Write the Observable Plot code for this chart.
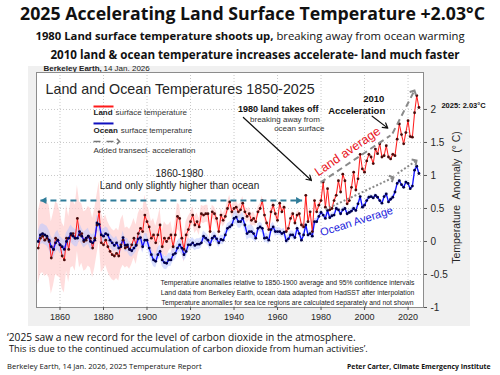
<!DOCTYPE html>
<html><head><meta charset="utf-8">
<script src="https://cdn.jsdelivr.net/npm/d3@7"></script>
<script src="https://cdn.jsdelivr.net/npm/@observablehq/plot@0.6"></script>
<style>
body{margin:0;width:500px;height:375px;position:relative;background:#fff;font-family:"Open Sans",sans-serif;overflow:hidden;color:#111}
.c{position:absolute;white-space:nowrap;transform:translate(-50%,-50%);line-height:1}
.l{position:absolute;white-space:nowrap;transform:translateY(-50%);line-height:1}
</style></head><body>
<div id="panel" style="position:absolute;left:28px;top:66px;width:442px;height:260px;background:#f0f0f0"></div>
<div id="chart" style="position:absolute;left:28px;top:60px"></div>
<div class="c" data-w="465" style="left:252.5px;top:14px;font-size:18px;font-weight:700">2025 Accelerating Land Surface Temperature +2.03°C</div>
<div class="c" data-w="430" style="left:250px;top:36px;font-size:12.5px"><b>1980 Land surface temperature shoots up,</b> breaking away from ocean warming</div>
<div class="c" data-w="410" style="left:255px;top:55px;font-size:12.5px;font-weight:700">2010 land &amp; ocean temperature increases accelerate- land much faster</div>
<div class="l" data-w="349" style="left:7px;top:337px;font-size:9.5px">‘2025 saw a new record for the level of carbon dioxide in the atmosphere.</div>
<div class="l" data-w="359" style="left:9px;top:349px;font-size:9.5px">This is due to the continued accumulation of carbon dioxide from human activities’.</div>
<div class="l" data-w="195" style="left:7px;top:367px;font-size:7.5px">Berkeley Earth, 14 Jan. 2026, 2025 Temperature Report</div>
<div class="l" data-w="144" style="left:347px;top:367px;font-size:7.5px;font-weight:700">Peter Carter, Climate Emergency Institute</div>
<script>
// ---------- data ----------
const years = d3.range(1850, 2026);
const land = [
-0.10,0.05,0.08,0.02,0.05,0.00,-0.25,-0.12,0.05,0.02,
-0.05,-0.22,-0.28,0.05,-0.12,0.10,0.12,0.05,0.35,0.10,
0.12,0.00,0.02,0.08,0.05,-0.10,0.05,0.25,0.45,-0.02,
-0.05,0.02,-0.08,-0.15,-0.20,-0.22,-0.18,-0.22,-0.05,0.02,
-0.10,-0.08,-0.12,-0.05,0.05,-0.05,0.12,0.20,0.15,0.40,
0.30,0.22,0.05,0.10,-0.02,0.10,0.25,-0.08,0.05,0.00,
0.05,0.10,-0.08,0.10,0.38,0.35,0.05,-0.12,0.10,0.18,
0.30,0.40,0.25,0.30,0.22,0.42,0.40,0.42,0.42,0.15,
0.45,0.42,0.35,0.15,0.40,0.32,0.38,0.50,0.60,0.45,
0.50,0.52,0.45,0.48,0.58,0.45,0.38,0.42,0.32,0.35,
0.30,0.45,0.50,0.62,0.40,0.28,0.18,0.45,0.55,0.42,
0.32,0.58,0.45,0.52,0.15,0.20,0.35,0.42,0.28,0.40,
0.42,0.25,0.22,0.70,0.30,0.45,0.15,0.62,0.45,0.55,
0.62,0.90,0.52,0.80,0.48,0.50,0.62,0.70,0.92,0.75,
1.02,0.92,0.57,0.62,0.82,1.05,0.78,0.95,1.32,1.10,
1.05,1.22,1.32,1.28,1.18,1.40,1.33,1.48,1.28,1.30,
1.45,1.28,1.25,1.32,1.30,1.55,1.78,1.62,1.48,1.65,
1.83,1.59,1.58,1.95,2.21,2.03];
const ocean = [
0.00,0.10,0.12,0.10,0.08,0.02,-0.08,-0.12,-0.02,0.02,
-0.05,-0.08,-0.12,0.00,0.05,0.12,0.08,0.05,0.05,0.15,
0.08,0.02,0.05,0.08,0.00,-0.02,0.02,0.28,0.26,0.10,
0.08,0.12,0.10,0.02,-0.02,-0.06,-0.02,-0.10,-0.08,0.06,
-0.06,-0.05,-0.12,-0.14,-0.10,-0.06,0.04,0.06,-0.08,0.02,
0.02,-0.10,-0.20,-0.28,-0.30,-0.20,-0.15,-0.28,-0.32,-0.33,
-0.28,-0.28,-0.20,-0.18,-0.10,-0.05,-0.10,-0.20,-0.15,-0.05,
-0.05,-0.02,-0.06,-0.04,-0.04,-0.02,0.08,0.05,0.02,-0.05,
0.05,0.08,0.04,-0.02,0.03,0.02,0.10,0.20,0.22,0.25,
0.35,0.37,0.30,0.30,0.35,0.25,0.12,0.15,0.15,0.12,
0.05,0.20,0.22,0.20,0.05,0.06,0.02,0.18,0.22,0.15,
0.15,0.15,0.12,0.14,0.01,0.04,0.10,0.10,0.06,0.20,
0.12,0.02,0.10,0.25,0.10,0.12,0.08,0.30,0.30,0.38,
0.44,0.40,0.35,0.47,0.36,0.39,0.40,0.50,0.48,0.42,
0.48,0.50,0.42,0.44,0.46,0.50,0.47,0.57,0.68,0.52,
0.55,0.62,0.67,0.68,0.66,0.70,0.67,0.62,0.58,0.68,
0.72,0.60,0.64,0.67,0.75,0.88,0.92,0.86,0.82,0.90,
0.88,0.80,0.84,1.08,1.14,1.03];
// 95% half-widths by decade (1850s ... 2020s)
const landUnc  = [0.55,0.50,0.45,0.38,0.30,0.25,0.20,0.13,0.10,0.10,0.07,0.05,0.05,0.04,0.03,0.03,0.03,0.03];
const oceanUnc = [0.15,0.13,0.12,0.10,0.10,0.10,0.10,0.08,0.07,0.10,0.07,0.06,0.05,0.04,0.04,0.03,0.03,0.03];
const xTicks = [1860,1880,1900,1920,1940,1960,1980,2000,2020];
const yTicks = [-1,-0.5,0,0.5,1,1.5,2];

// ---------- annotations (data coordinates) ----------
const landTrend  = [{x1:1979.75,y1:0.894,x2:2011.9,y2:1.606,head:false},{x1:2012.85,y1:1.636,x2:2022.95,y2:2.288,head:true}];
const oceanTrend = [{x1:1982.05,y1:0.485,x2:2013.3,y2:0.970,head:true},{x1:2015.15,y1:1.030,x2:2023.9,y2:1.227,head:true}];
const legendTrend = [{x1:1875.4,y1:1.515,x2:1887.35,y2:1.515,head:true}];
const spanArrow = [{x1:1851.0,y1:0.621,x2:1971.3,y2:0.621}];
const blackArrows = [{x1:1944.3,y1:1.879,x2:1975.6,y2:0.924},{x1:2003.5,y1:1.898,x2:2010.7,y2:1.717}];

// ---------- layout ----------
const W=472,H=266,ML=8,MR=77,MT=12,MB=19;
const X0=1849.2,X1=2027.1,Y0=-1,Y1=2.56;
const kx=(W-ML-MR)/(X1-X0), ky=(H-MT-MB)/(Y1-Y0);
const ang=(a)=>Math.atan2(-(a.y2-a.y1)*ky,(a.x2-a.x1)*kx)*180/Math.PI;
const chevron={draw(ctx,size){const s=Math.sqrt(size)/2;ctx.moveTo(-s,-s);ctx.lineTo(0,0);ctx.lineTo(-s,s);}};
const tri={draw(ctx,size){const s=Math.sqrt(size)/2;ctx.moveTo(0,0);ctx.lineTo(-1.7*s,-s);ctx.lineTo(-1.7*s,s);ctx.closePath();}};
const headsOf=(segs)=>segs.filter(d=>d.head).map(d=>({x:d.x2,y:d.y2,a:ang(d)}));

const rows = years.map((year,i)=>({year,land:land[i],ocean:ocean[i],
  lh:landUnc[Math.floor((year-1850)/10)], oh:oceanUnc[Math.floor((year-1850)/10)]}));

const F="'Liberation Sans', Arial, sans-serif";
const chart = Plot.plot({
  width:W,height:H,marginLeft:ML,marginRight:MR,marginTop:MT,marginBottom:MB,
  style:{background:"transparent",fontFamily:F,color:"#262626",overflow:"visible"},
  x:{domain:[X0,X1]}, y:{domain:[Y0,Y1]},
  marks:[
    Plot.frame({fill:"white"}),
    Plot.ruleX(xTicks,{stroke:"#c8c8c8",strokeDasharray:"1,2"}),
    Plot.ruleY(yTicks,{stroke:"#c8c8c8",strokeDasharray:"1,2"}),
    Plot.areaY(rows,{x:"year",y1:d=>d.land-d.lh,y2:d=>d.land+d.lh,fill:"#ffcfcf",fillOpacity:0.7}),
    Plot.areaY(rows,{x:"year",y1:d=>d.ocean-d.oh,y2:d=>d.ocean+d.oh,fill:"#b8c4ff",fillOpacity:0.55}),
    Plot.line(rows,{x:"year",y:"land",stroke:"#ff1a1a",strokeWidth:1}),
    Plot.line(rows,{x:"year",y:"ocean",stroke:"#1010ff",strokeWidth:1.3}),
    Plot.dot(rows,{x:"year",y:"land",r:1.4,fill:"#4a0a0a",stroke:null}),
    Plot.dot(rows,{x:"year",y:"ocean",r:1.4,fill:"#000045",stroke:null}),
    // trend arrows
    Plot.link(landTrend,{x1:"x1",y1:"y1",x2:"x2",y2:"y2",stroke:"#8a8a8a",strokeWidth:2,strokeDasharray:"6,4"}),
    Plot.dot(headsOf(landTrend),{x:"x",y:"y",rotate:"a",symbol:chevron,r:4,stroke:"#8a8a8a",strokeWidth:2,fill:"none"}),
    Plot.link(oceanTrend,{x1:"x1",y1:"y1",x2:"x2",y2:"y2",stroke:"#8a8a8a",strokeWidth:2,strokeDasharray:"2,2"}),
    Plot.dot(headsOf(oceanTrend),{x:"x",y:"y",rotate:"a",symbol:chevron,r:4,stroke:"#8a8a8a",strokeWidth:2,fill:"none"}),
    // 1860-1980 span arrow
    Plot.link(spanArrow,{x1:"x1",y1:"y1",x2:"x2",y2:"y2",stroke:"#2f7c99",strokeWidth:2,strokeDasharray:"6,4"}),
    Plot.dot(spanArrow.flatMap(d=>[{x:d.x1,y:d.y1,a:180},{x:d.x2,y:d.y2,a:0}]),{x:"x",y:"y",rotate:"a",symbol:tri,r:4,fill:"#2f7c99",stroke:null}),
    Plot.arrow(blackArrows,{x1:"x1",y1:"y1",x2:"x2",y2:"y2",stroke:"#111",strokeWidth:1.2,headLength:7}),
    // legend
    Plot.link([{x1:1875.4,x2:1884.6,y:2.045}],{x1:"x1",x2:"x2",y1:"y",y2:"y",stroke:"#ff1a1a",strokeWidth:2}),
    Plot.link([{x1:1875.4,x2:1884.6,y:1.788}],{x1:"x1",x2:"x2",y1:"y",y2:"y",stroke:"#1010c0",strokeWidth:2}),
    Plot.link(legendTrend,{x1:"x1",y1:"y1",x2:"x2",y2:"y2",stroke:"#777",strokeWidth:1.5,strokeDasharray:"7,6"}),
    Plot.dot(headsOf(legendTrend),{x:"x",y:"y",rotate:"a",symbol:chevron,r:3,stroke:"#777",strokeWidth:1.5,fill:"none"}),
    Plot.text(["Land"],{x:1875.4,y:1.955,textAnchor:"start",fontSize:8,fontWeight:"bold",fill:"#222"}),
    Plot.text(["surface temperature"],{x:1885.5,y:1.955,textAnchor:"start",fontSize:8,fill:"#333"}),
    Plot.text(["Ocean"],{x:1875.4,y:1.682,textAnchor:"start",fontSize:8,fontWeight:"bold",fill:"#222"}),
    Plot.text(["surface temperature"],{x:1887.9,y:1.682,textAnchor:"start",fontSize:8,fill:"#333"}),
    Plot.text(["Added transect- acceleration"],{x:1875.4,y:1.379,textAnchor:"start",fontSize:8,fill:"#333"}),
    // titles and notes inside axes
    Plot.text(["Land and Ocean Temperatures 1850-2025"],{frameAnchor:"top-left",dx:9,dy:17,lineAnchor:"middle",textAnchor:"start",fontSize:14.3,fill:"#262626"}),
    Plot.text(["Berkeley Earth,"],{frameAnchor:"top-left",dx:7,dy:-4.5,lineAnchor:"middle",textAnchor:"start",fontSize:8,fontWeight:"bold",fill:"#222"}),
    Plot.text(["14 Jan. 2026"],{frameAnchor:"top-left",dx:67,dy:-4.5,lineAnchor:"middle",textAnchor:"start",fontSize:8,fill:"#222"}),
    Plot.text(["1860-1980"],{x:1914.9,y:1.03,fontSize:10,fill:"#222"}),
    Plot.text(["Land only slightly higher than ocean"],{x:1914.9,y:0.848,fontSize:10,fill:"#222"}),
    Plot.text(["1980 land takes off"],{x:1960.3,y:2.008,fontSize:9,fontWeight:"bold",fill:"#111"}),
    Plot.text(["breaking away from"],{x:1963.4,y:1.856,fontSize:8,fill:"#333"}),
    Plot.text(["ocean surface"],{x:1970.0,y:1.708,fontSize:8,fill:"#333"}),
    Plot.text(["2010"],{x:2004.25,y:2.156,fontSize:9.5,fontWeight:"bold",fill:"#111"}),
    Plot.text(["Acceleration"],{x:1996.4,y:1.974,fontSize:9.5,fontWeight:"bold",fill:"#111"}),
    Plot.text(["Land average"],{x:1992.2,y:1.364,rotate:-34.5,fontSize:12.5,fill:"#e8141c"}),
    Plot.text(["Ocean Average"],{x:1996.3,y:0.303,rotate:-17.7,fontSize:11,fill:"#1a1adc"}),
    Plot.text(["Temperature anomalies relative to 1850-1900 average and 95% confidence intervals\nLand data from Berkeley Earth, ocean data adapted from HadSST after interpolation\nTemperature anomalies for sea ice regions are calculated separately and not shown"],
      {frameAnchor:"bottom",dx:57.5,dy:-3,lineAnchor:"bottom",lineHeight:1.45,fontSize:6.8,fill:"#222",stroke:"white",strokeWidth:2}),
    Plot.text(["2025: 2.03°C"],{x:2025,y:2.03,dx:22.5,dy:-2,textAnchor:"start",fontSize:7.5,fontWeight:"bold",fill:"#111"}),
    Plot.text(["Temperature  Anomaly  (° C)"],{x:2042.3,y:0.667,rotate:-90,fontSize:10.5,fill:"#262626"}),
    Plot.frame({stroke:"#8c8c8c"}),
    Plot.axisX(xTicks,{anchor:"bottom",tickSize:3,tickPadding:3,fontSize:9,tickFormat:d=>String(d),label:null,stroke:"#555"}),
    Plot.axisY(yTicks,{anchor:"right",tickSize:3,tickPadding:4,fontSize:10,tickFormat:d=>String(d),label:null,stroke:"#555"})
  ]
});
document.getElementById("chart").appendChild(chart);
// fit heading/caption widths to the reference
document.querySelectorAll("[data-w]").forEach(el=>{
  const w=+el.dataset.w, r=el.getBoundingClientRect().width;
  const fs=parseFloat(getComputedStyle(el).fontSize);
  el.style.fontSize=(fs*w/r)+"px";
});
</script>
</body></html>
